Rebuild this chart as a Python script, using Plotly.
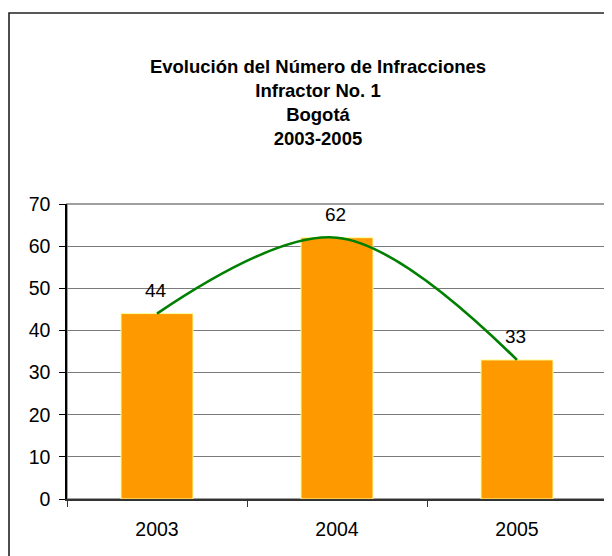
import plotly.graph_objects as go

years = ["2003", "2004", "2005"]
infracciones = [44, 62, 33]
title_lines = ["Evolución del Número de Infracciones", "Infractor No. 1", "Bogotá", "2003-2005"]
y_ticks = [0, 10, 20, 30, 40, 50, 60, 70]

FONT = "Arial, 'Liberation Sans', sans-serif"
OFF = 8  # page body margin
W, H = 612 - OFF, 556 - OFF
L, R, T, B = 67 - OFF, 5, 204 - OFF, 57
pw, ph = W - L - R, H - T - B

fig = go.Figure()
fig.add_trace(go.Bar(
    x=years, y=infracciones, width=0.4,
    marker=dict(color="#FF9900", line=dict(color="#FFFF99", width=1)),
    hoverinfo="x+y", showlegend=False,
))
fig.add_trace(go.Scatter(
    x=years, y=infracciones, mode="lines",
    line=dict(color="#008000", width=2.6, shape="spline", smoothing=1.0),
    showlegend=False,
))
for i, v in enumerate(infracciones):
    fig.add_annotation(x=i, y=v, text=str(v), showarrow=False, yshift=23,
                       xshift=-1.5, yanchor="middle", xanchor="center",
                       font=dict(family=FONT, size=19, color="#000000"))

# outer chart frame (extends past the right and bottom edges)
fig.add_shape(type="rect", xref="paper", yref="paper",
              x0=(9 - OFF - L) / pw, x1=1.2, y0=-0.5, y1=(H - B - (13 - OFF)) / ph,
              line=dict(color="#222222", width=1.6), layer="below")
# plot area border (gray)
fig.add_shape(type="rect", xref="paper", yref="paper", x0=0, x1=1, y0=0, y1=1,
              line=dict(color="#808080", width=1.5), layer="below")

fig.update_layout(
    width=W, height=H,
    margin=dict(l=L, r=R, t=T, b=B, pad=0, autoexpand=False),
    paper_bgcolor="white", plot_bgcolor="white",
    title=dict(text="<br>".join(f"<b>{t}</b>" for t in title_lines),
               x=(318 - OFF) / W, xref="container", xanchor="center",
               y=1 - (65.5 - OFF + 7) / H, yref="container", yanchor="middle",
               font=dict(family=FONT, size=18.5, color="#000000")),
    xaxis=dict(type="category", range=[-0.5, 2.5], showgrid=False, showline=True,
               linecolor="#333333", linewidth=1.5, automargin=False,
               ticks="outside", tickson="boundaries", ticklen=6, tickcolor="#333333",
               tickfont=dict(family=FONT, size=19.5, color="#000000"), tickangle=0,
               ticklabelstandoff=12, zeroline=False),
    yaxis=dict(range=[0, 70], tickvals=y_ticks, showgrid=True, gridcolor="#7a7a7a", gridwidth=1.2,
               showline=True, linecolor="#000000", linewidth=1.5, automargin=False,
               ticks="outside", ticklen=6, tickcolor="#000000",
               tickfont=dict(family=FONT, size=19.5, color="#000000"),
               ticklabelstandoff=5, zeroline=False),
)

fig.write_html("out.html")
